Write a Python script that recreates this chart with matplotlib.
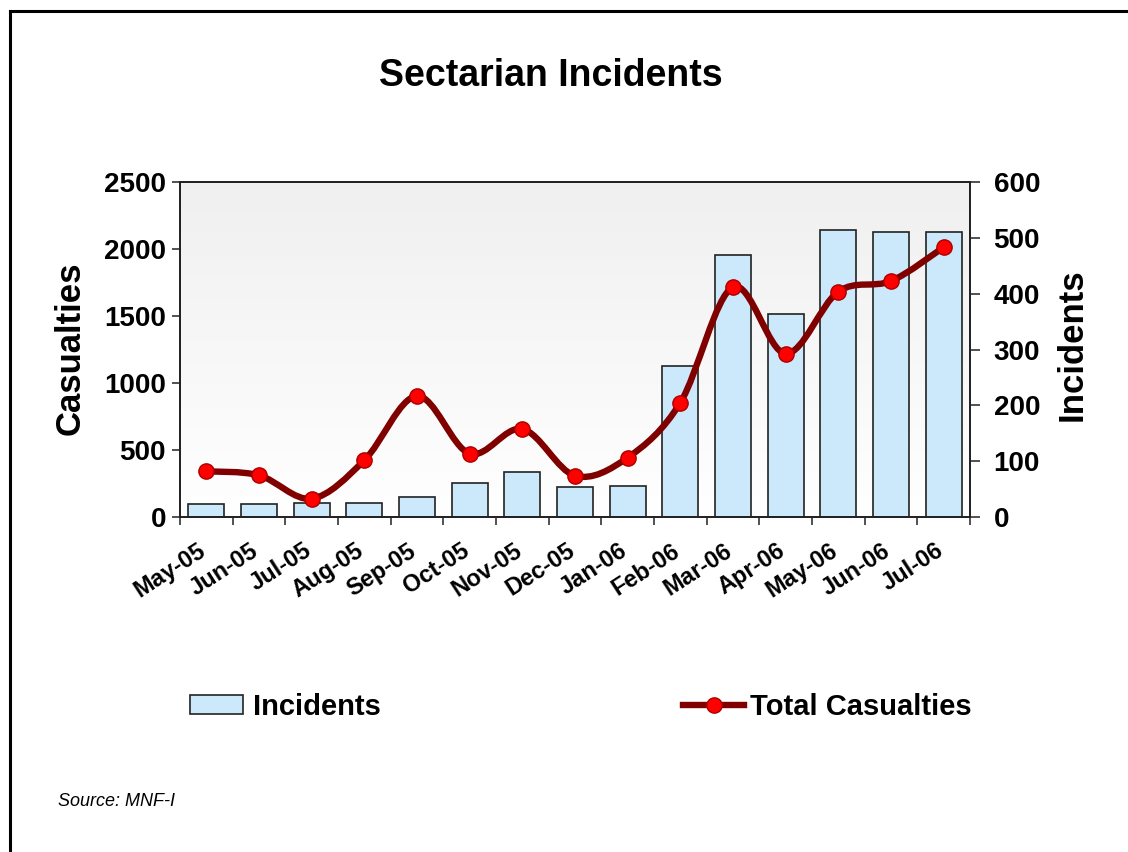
import numpy as np
import matplotlib
matplotlib.use('Agg')
import matplotlib.pyplot as plt
from matplotlib.path import Path
from matplotlib.patches import PathPatch, Patch
from matplotlib.lines import Line2D
import matplotlib.transforms as mtrans

# ---- data ----
months = ['May-05', 'Jun-05', 'Jul-05', 'Aug-05', 'Sep-05', 'Oct-05', 'Nov-05',
          'Dec-05', 'Jan-06', 'Feb-06', 'Mar-06', 'Apr-06', 'May-06', 'Jun-06', 'Jul-06']
incidents = [23, 23, 25, 25, 36, 61, 81, 53, 55, 271, 470, 363, 514, 510, 510]
casualties = [341, 311, 137, 423, 903, 473, 657, 308, 443, 853, 1716, 1219, 1682, 1761, 2013]
left_ticks = [0, 500, 1000, 1500, 2000, 2500]
right_ticks = [0, 100, 200, 300, 400, 500, 600]

plt.rcParams['font.family'] = ['Liberation Sans', 'DejaVu Sans']
plt.rcParams['font.weight'] = 'bold'

W, H = 1128, 852
fig = plt.figure(figsize=(W / 100, H / 100), dpi=100)
fig.patch.set_facecolor('white')

ax = fig.add_axes([180 / W, 1 - 517 / H, 790 / W, 335 / H])
ax2 = ax.twinx()
ax.set_zorder(ax2.get_zorder() + 1)
ax.patch.set_visible(False)

x = np.arange(len(months))
n = len(months)

# gradient background on lower axes (grey at top, white at bottom)
grad = np.linspace(0.94, 1.0, 256).reshape(-1, 1)
ax2.imshow(np.dstack([grad, grad, grad]), extent=[0, 1, 0, 1], origin='upper',
           transform=ax2.transAxes, aspect='auto', zorder=0)

# bars (incidents, right axis)
ax2.bar(x, incidents, width=0.68, color='#cce9fb', edgecolor='#222222', linewidth=1.2, zorder=2)
ax2.set_ylim(0, 600)
ax2.set_yticks(right_ticks)

# smoothed line (casualties, left axis) via cubic Bezier segments
pts = np.column_stack([x, casualties]).astype(float)
verts = [pts[0]]
codes = [Path.MOVETO]
for i in range(n - 1):
    p0 = pts[i - 1] if i > 0 else pts[i]
    p1 = pts[i]
    p2 = pts[i + 1]
    p3 = pts[i + 2] if i + 2 < n else pts[i + 1]
    c1 = p1 + (p2 - p0) / 6.0
    c2 = p2 - (p3 - p1) / 6.0
    verts += [c1, c2, p2]
    codes += [Path.CURVE4] * 3
path = Path(verts, codes)
ax.add_patch(PathPatch(path, facecolor='none', edgecolor='#800000', linewidth=4.6,
                       capstyle='round', joinstyle='round', zorder=3))
ax.plot(x, casualties, linestyle='none', marker='o', markersize=11,
        markerfacecolor='#ff0000', markeredgecolor='#aa0000', markeredgewidth=1.0, zorder=4)

ax.set_xlim(-0.5, n - 0.5)
ax.set_ylim(0, 2500)
ax.set_yticks(left_ticks)

# x ticks: marks at category boundaries, labels near centres
ax.set_xticks(np.arange(-0.5, n, 1.0), minor=True)
ax.set_xticks(x)
ax.set_xticklabels(months, rotation=33, ha='right', va='top', rotation_mode='anchor',
                   fontsize=17, fontweight='bold')
ax.tick_params(axis='x', which='major', length=0, pad=16)
ax.tick_params(axis='x', which='minor', length=6, direction='out', width=1.2, color='#333333')
offset = mtrans.ScaledTranslation(-9 / 100, 0, fig.dpi_scale_trans)
for lab in ax.get_xticklabels():
    lab.set_transform(lab.get_transform() + offset)

ax.tick_params(axis='y', length=6, width=1.2, direction='out', pad=4, labelsize=20, color='#333333')
ax2.tick_params(axis='y', length=7, width=1.2, direction='out', pad=10, labelsize=20, color='#333333')
for lab in ax.get_yticklabels() + ax2.get_yticklabels():
    lab.set_fontweight('bold')
ax2.tick_params(axis='x', which='both', length=0)

for a in (ax, ax2):
    for s in a.spines.values():
        s.set_color('#222222')
        s.set_linewidth(1.3)

# texts
fig.text(551 / W, 1 - 76 / H, 'Sectarian Incidents', ha='center', va='center',
         fontsize=27, fontweight='bold')
fig.text(70 / W, 1 - 348 / H, 'Casualties', ha='center', va='center', rotation=90,
         fontsize=25, fontweight='bold')
fig.text(1072 / W, 1 - 345 / H, 'Incidents', ha='center', va='center', rotation=90,
         fontsize=25, fontweight='bold')
fig.text(58 / W, 1 - 802 / H, 'Source: MNF-I', ha='left', va='center', fontsize=13,
         fontweight='normal', style='italic')

# legends
leg_y = 1 - 707 / H
h1 = Patch(facecolor='#cce9fb', edgecolor='#222222', linewidth=1.2)
fig.legend(handles=[h1], labels=['Incidents'], loc='center left',
           bbox_to_anchor=(190 / W, leg_y), frameon=False, borderpad=0, borderaxespad=0,
           handlelength=1.8, handleheight=0.6, handletextpad=0.35,
           prop={'size': 21, 'weight': 'bold'})
h2 = Line2D([0], [0], color='#800000', linewidth=4.6, marker='o', markersize=11,
            markerfacecolor='#ff0000', markeredgecolor='#aa0000', markeredgewidth=1.0)
fig.legend(handles=[h2], labels=['Total Casualties'], loc='center left',
           bbox_to_anchor=(683 / W, leg_y), frameon=False, borderpad=0, borderaxespad=0,
           handlelength=2.1, handletextpad=0.2,
           prop={'size': 21, 'weight': 'bold'})

# outer border (top and left edges)
fig.add_artist(Line2D([9.5 / W, 1.0], [1 - 10.5 / H, 1 - 10.5 / H], color='black',
                      linewidth=2.2, transform=fig.transFigure))
fig.add_artist(Line2D([9.5 / W, 9.5 / W], [0, 1 - 10.5 / H], color='black',
                      linewidth=2.2, transform=fig.transFigure))

fig.savefig('out.png', dpi=100, facecolor='white')
